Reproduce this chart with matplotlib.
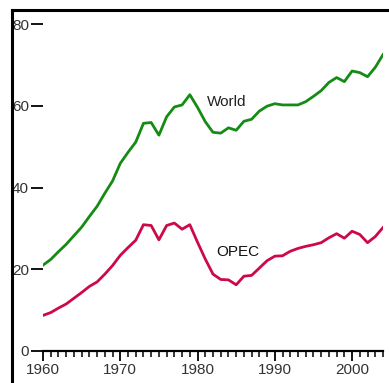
import matplotlib
matplotlib.use("Agg")
import matplotlib.pyplot as plt
from matplotlib.lines import Line2D
from matplotlib.ticker import MultipleLocator

years = list(range(1960, 2005))
world = [21.0, 22.4, 24.3, 26.1, 28.2, 30.3, 32.9, 35.4, 38.6, 41.6,
         45.9, 48.6, 51.1, 55.7, 55.9, 52.8, 57.3, 59.7, 60.2, 62.7,
         59.6, 56.1, 53.5, 53.3, 54.6, 54.0, 56.2, 56.7, 58.7, 59.9,
         60.5, 60.2, 60.2, 60.2, 61.0, 62.3, 63.7, 65.7, 66.9, 65.9,
         68.5, 68.1, 67.1, 69.4, 72.5]
opec = [8.7, 9.4, 10.5, 11.5, 12.9, 14.3, 15.8, 16.9, 18.8, 20.9,
        23.4, 25.3, 27.1, 30.9, 30.7, 27.2, 30.7, 31.3, 29.8, 30.9,
        26.6, 22.5, 18.8, 17.5, 17.4, 16.2, 18.3, 18.5, 20.3, 22.1,
        23.2, 23.3, 24.4, 25.1, 25.6, 26.0, 26.5, 27.7, 28.7, 27.6,
        29.3, 28.5, 26.5, 28.0, 30.2]
y_ticks = [0, 20, 40, 60, 80]
x_ticks = [1960, 1970, 1980, 1990, 2000]
series_labels = ["World", "OPEC"]

W, H = 389, 383
fig = plt.figure(figsize=(W / 100, H / 100), dpi=100)
fig.patch.set_facecolor("white")
plt.rcParams['font.family'] = ['Liberation Sans', 'DejaVu Sans']

ax = fig.add_axes([43 / W, (H - 351) / H, (383 - 43) / W, (351 - 24) / H])
ax.set_facecolor("none")
ax.plot(years, world, color="#148c14", lw=2.0, solid_joinstyle="round")
ax.plot(years, opec, color="#cc0a48", lw=2.0, solid_joinstyle="round")
ax.set_xlim(1960, 2004)
ax.set_ylim(0, 80)

for s in ["top", "right", "left"]:
    ax.spines[s].set_visible(False)
ax.spines["bottom"].set_linewidth(1.6)
ax.spines["bottom"].set_color("black")

ax.set_xticks(x_ticks)
ax.set_xticklabels([str(x) for x in x_ticks])
ax.xaxis.set_minor_locator(MultipleLocator(1))
ax.tick_params(axis="x", which="major", direction="out", length=7, width=1.3,
               labelsize=11, pad=2, colors="black", labelcolor="#333333")
ax.tick_params(axis="x", which="minor", direction="out", length=4, width=1.1)
ax.set_yticks(y_ticks)
ax.set_yticklabels([str(y) for y in y_ticks])
ax.tick_params(axis="y", direction="out", length=9, width=1.3,
               labelsize=11, pad=1, labelcolor="#333333")

ax.text(1981.2, 60.9, series_labels[0], fontsize=11, color="#222222",
        ha="left", va="center")
ax.text(1982.4, 24.2, series_labels[1], fontsize=11, color="#111111",
        ha="left", va="center")

# frame lines (left and top)
fig.add_artist(Line2D([12 / W, 12 / W], [0, (H - 10) / H], color="black",
                      lw=2.2, transform=fig.transFigure))
fig.add_artist(Line2D([12 / W, 1], [(H - 10) / H, (H - 10) / H], color="black",
                      lw=2.2, transform=fig.transFigure))

fig.savefig("out.png", dpi=100)
